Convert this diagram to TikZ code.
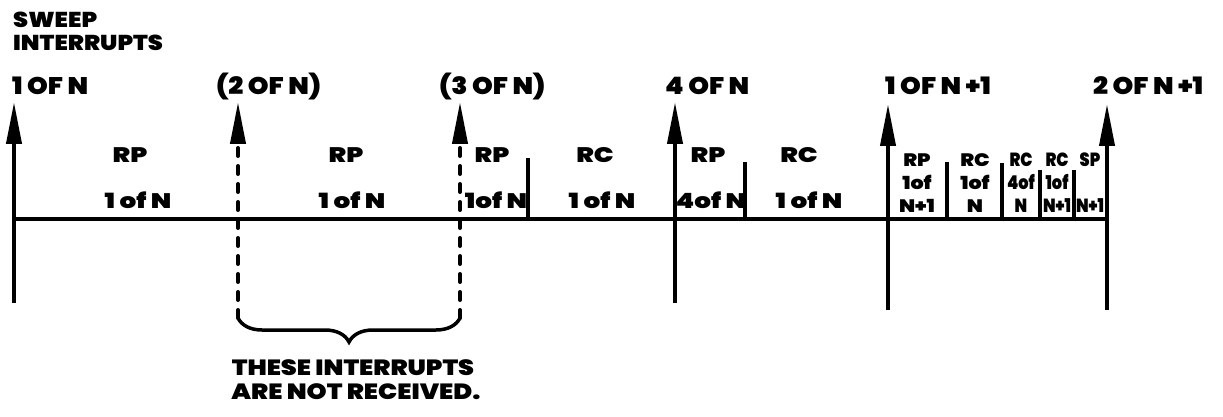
\documentclass[tikz,border=0pt]{standalone}
\usepackage{fontspec}
\usetikzlibrary{arrows.meta,decorations.pathreplacing}
\newfontfamily\fW[FakeStretch=1.25]{Poppins Black}
\newfontfamily\fH[FakeStretch=1.12]{Poppins Black}
\newfontfamily\fB[FakeStretch=1.16]{Poppins Black}
\newfontfamily\fN[FakeStretch=1.15]{Poppins Black}
\newfontfamily\fT[FakeStretch=1.1]{Poppins Black}
\newfontfamily\fC[FakeStretch=0.85]{Poppins Black}
\begin{document}
\begin{tikzpicture}[x=1pt,y=-1pt,
  sol/.style={line width=4pt,-{Triangle[length=42pt,width=15pt]}},
  dsh/.style={line width=4pt,line cap=round,dash pattern=on 8pt off 10pt,-{Triangle[length=42pt,width=15pt]}},
  baseline/.style={line width=4.5pt},
  barline/.style={line width=3.5pt},
  brc/.style={line width=3.5pt,line cap=round,decorate,decoration={brace,mirror,amplitude=24pt}},
  hdr/.style={font=\fH\fontsize{21.5}{21.5}\selectfont,inner sep=0pt,anchor=base west},
  top/.style={font=\fT\fontsize{24}{24}\selectfont,inner sep=0pt,anchor=base west},
  seg/.style={font=\fW\fontsize{21}{21}\selectfont,inner sep=0pt,anchor=base},
  cell/.style={font=\fN\fontsize{18}{18}\selectfont,inner sep=0pt,anchor=base},
  ncell/.style={font=\fC\fontsize{19}{19}\selectfont,inner sep=0pt,anchor=base},
  note/.style={font=\fB\fontsize{22}{22}\selectfont,inner sep=0pt,anchor=base}]
\useasboundingbox (0,0) rectangle (1223,417);
% header
\node[hdr] (h1) at (13,28) {SWEEP};
\node[hdr] (h2) at (13,51) {INTERRUPTS};
% top labels
\node[top] (t1) at (12,95) {1 OF N};
\node[top] (t2) at (216,95) {(2 OF N)};
\node[top] (t3) at (439,95) {(3 OF N)};
\node[top] (t4) at (665,95) {4 OF N};
\node[top] (t5) at (885,95) {1 OF N +1};
\node[top] (t6) at (1093,95) {2 OF N +1};
% coordinates
\coordinate (a1t) at (14,102);  \coordinate (a1b) at (14,303);
\coordinate (a2t) at (238,102); \coordinate (a2b) at (238,318);
\coordinate (a3t) at (460,102); \coordinate (a3b) at (460,318);
\coordinate (a4t) at (675,102); \coordinate (a4b) at (675,303);
\coordinate (a5t) at (888,104); \coordinate (a5b) at (888,310);
\coordinate (a6t) at (1107,104); \coordinate (a6b) at (1107,310);
\coordinate (L0) at (14,219); \coordinate (L1) at (1109,219);
% time line
\draw[baseline] (L0) -- (L1);
% arrows
\draw[sol] (a1b) -- (a1t);
\draw[dsh] (a2b) -- (a2t);
\draw[dsh] (a3b) -- (a3t);
\draw[sol] (a4b) -- (a4t);
\draw[sol] (a5b) -- (a5t);
\draw[sol] (a6b) -- (a6t);
% bars
\coordinate (b1t) at (528,158); \coordinate (b1b) at (528,219);
\coordinate (b2t) at (745,162); \coordinate (b2b) at (745,219);
\coordinate (b3t) at (947,162); \coordinate (b3b) at (947,219);
\coordinate (b4t) at (1002,163); \coordinate (b4b) at (1002,219);
\coordinate (b5t) at (1040,170); \coordinate (b5b) at (1040,219);
\coordinate (b6t) at (1074,170); \coordinate (b6b) at (1074,219);
\draw[barline] (b1b) -- (b1t);
\draw[barline] (b2b) -- (b2t);
\draw[barline] (b3b) -- (b3t);
\draw[barline] (b4b) -- (b4t);
\draw[barline] (b5b) -- (b5t);
\draw[barline] (b6b) -- (b6t);
% segment labels
\node[seg] (s1a) at (130,162) {RP};
\node[seg] (s1b) at (138,208) {1 of N};
\node[seg] (s2a) at (346,162) {RP};
\node[seg] (s2b) at (352,208) {1 of N};
\node[seg] (s3a) at (492,162) {RP};
\node[seg] (s3b) at (496,208) {1of N};
\node[seg] (s4a) at (595,162) {RC};
\node[seg] (s4b) at (602,208) {1 of N};
\node[seg] (s5a) at (708,162) {RP};
\node[seg] (s5b) at (711,208) {4of N};
\node[seg] (s6a) at (799,162) {RC};
\node[seg] (s6b) at (809,208) {1 of N};
% cluster
\node[cell] (c1a) at (917,166) {RP};
\node[cell] (c1b) at (917,189) {1of};
\node[cell] (c1c) at (917,212) {N+1};
\node[cell] (c2a) at (975,166) {RC};
\node[cell] (c2b) at (975,189) {1of};
\node[cell] (c2c) at (975,212) {N};
\node[ncell] (c3a) at (1021,166) {RC};
\node[ncell] (c3b) at (1021,189) {4of};
\node[ncell] (c3c) at (1021,212) {N};
\node[ncell] (c4a) at (1057,166) {RC};
\node[ncell] (c4b) at (1057,189) {1of};
\node[ncell] (c4c) at (1057,212) {N+1};
\node[ncell] (c5a) at (1090,166) {SP};
\node[ncell] (c5c) at (1090,212) {N+1};
% brace
\draw[brc] (a2b) -- (a3b);
\node[note] (n1) at (353,375) {THESE INTERRUPTS};
\node[note] (n2) at (356,399) {ARE NOT RECEIVED.};
\end{tikzpicture}
\end{document}
